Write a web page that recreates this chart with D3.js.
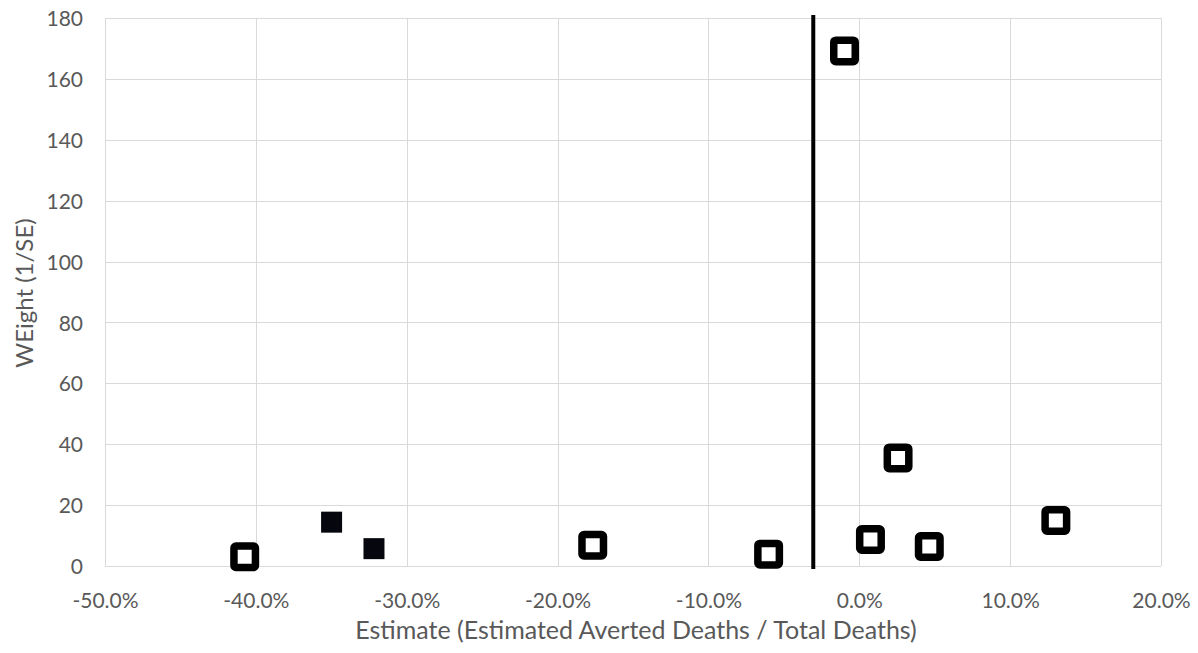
<!DOCTYPE html>
<html>
<head>
<meta charset="utf-8">
<script src="https://cdn.jsdelivr.net/npm/d3@7"></script>
<style>
  html, body { margin: 0; padding: 0; background: #ffffff; }
  svg { display: block; }
  text { font-family: Lato, "Open Sans", sans-serif; fill: #595959; }
</style>
</head>
<body>
<svg id="chart" width="1198" height="653"></svg>
<script>
// Data (x as percent of total deaths, y as weight 1/SE)
const openEstimates = [-40.74, -17.67, -6.01, -0.98, 2.57, 0.74, 4.64, 13.03];
const openWeights   = [3.05, 6.8, 3.9, 169.2, 35.5, 8.7, 6.4, 14.95];
const filledEstimates = [-34.98, -32.17];
const filledWeights   = [14.4, 5.7];
const referenceEstimate = -3.05;
const xTicks = [-50, -40, -30, -20, -10, 0, 10, 20];
const yTicks = [0, 20, 40, 60, 80, 100, 120, 140, 160, 180];
const xTitle = "Estimate (Estimated Averted Deaths / Total Deaths)";
const yTitle = "WEight (1/SE)";

const svg = d3.select("#chart");
const pLeft = 105, pRight = 1161, pTop = 18, pBottom = 566;

const x = d3.scaleLinear().domain([-50, 20]).range([pLeft, pRight]);
const y = d3.scaleLinear().domain([0, 180]).range([pBottom, pTop]);

// Gridlines
const grid = svg.append("g");
grid.selectAll("line.v").data(xTicks).join("line").attr("class", "v")
  .attr("x1", d => Math.round(x(d)) + 0.5).attr("x2", d => Math.round(x(d)) + 0.5)
  .attr("y1", pTop).attr("y2", pBottom)
  .attr("stroke", "#d9d9d9").attr("stroke-width", 1);
grid.selectAll("line.h").data(yTicks).join("line").attr("class", "h")
  .attr("y1", d => Math.round(y(d)) + 0.5).attr("y2", d => Math.round(y(d)) + 0.5)
  .attr("x1", pLeft).attr("x2", pRight)
  .attr("stroke", "#d9d9d9").attr("stroke-width", 1);

// Axes labels via d3 axes
const fmt = d => d.toFixed(1) + "%";
const xAxis = svg.append("g")
  .attr("transform", `translate(0,${pBottom})`)
  .call(d3.axisBottom(x).tickValues(xTicks).tickFormat(fmt).tickSize(0).tickPadding(0));
xAxis.select(".domain").remove();
xAxis.selectAll("text")
  .attr("y", 42).attr("dy", null)
  .style("font-size", "21px").style("font-family", "Lato, sans-serif").attr("fill", "#595959");

const yAxis = svg.append("g")
  .attr("transform", `translate(83,0)`)
  .call(d3.axisLeft(y).tickValues(yTicks).tickSize(0).tickPadding(0));
yAxis.select(".domain").remove();
yAxis.selectAll("text")
  .attr("x", 0).attr("dy", "0.36em")
  .style("font-size", "21px").style("font-family", "Lato, sans-serif").attr("fill", "#595959");

// Axis titles
svg.append("text")
  .attr("x", (pLeft + pRight) / 2 + 3).attr("y", 639)
  .attr("text-anchor", "middle")
  .style("font-size", "25px")
  .text(xTitle);
svg.append("text")
  .attr("transform", `translate(33,${(pTop + pBottom) / 2 + 1}) rotate(-90)`)
  .attr("text-anchor", "middle")
  .style("font-size", "24px")
  .text(yTitle);

// Reference vertical line
svg.append("line")
  .attr("x1", x(referenceEstimate)).attr("x2", x(referenceEstimate))
  .attr("y1", pTop - 3).attr("y2", pBottom + 3)
  .attr("stroke", "#000").attr("stroke-width", 4);

// Filled squares
const fs = 21;
svg.append("g").selectAll("rect")
  .data(filledEstimates.map((d, i) => [d, filledWeights[i]]))
  .join("rect")
  .attr("x", d => x(d[0]) - fs / 2).attr("y", d => y(d[1]) - fs / 2)
  .attr("width", fs).attr("height", fs)
  .attr("fill", "#06060f");

// Open squares
const os = 21.5;
svg.append("g").selectAll("rect")
  .data(openEstimates.map((d, i) => [d, openWeights[i]]))
  .join("rect")
  .attr("x", d => x(d[0]) - os / 2).attr("y", d => y(d[1]) - os / 2)
  .attr("width", os).attr("height", os)
  .attr("rx", 2)
  .attr("fill", "#ffffff").attr("stroke", "#000").attr("stroke-width", 7.5);
</script>
</body>
</html>
